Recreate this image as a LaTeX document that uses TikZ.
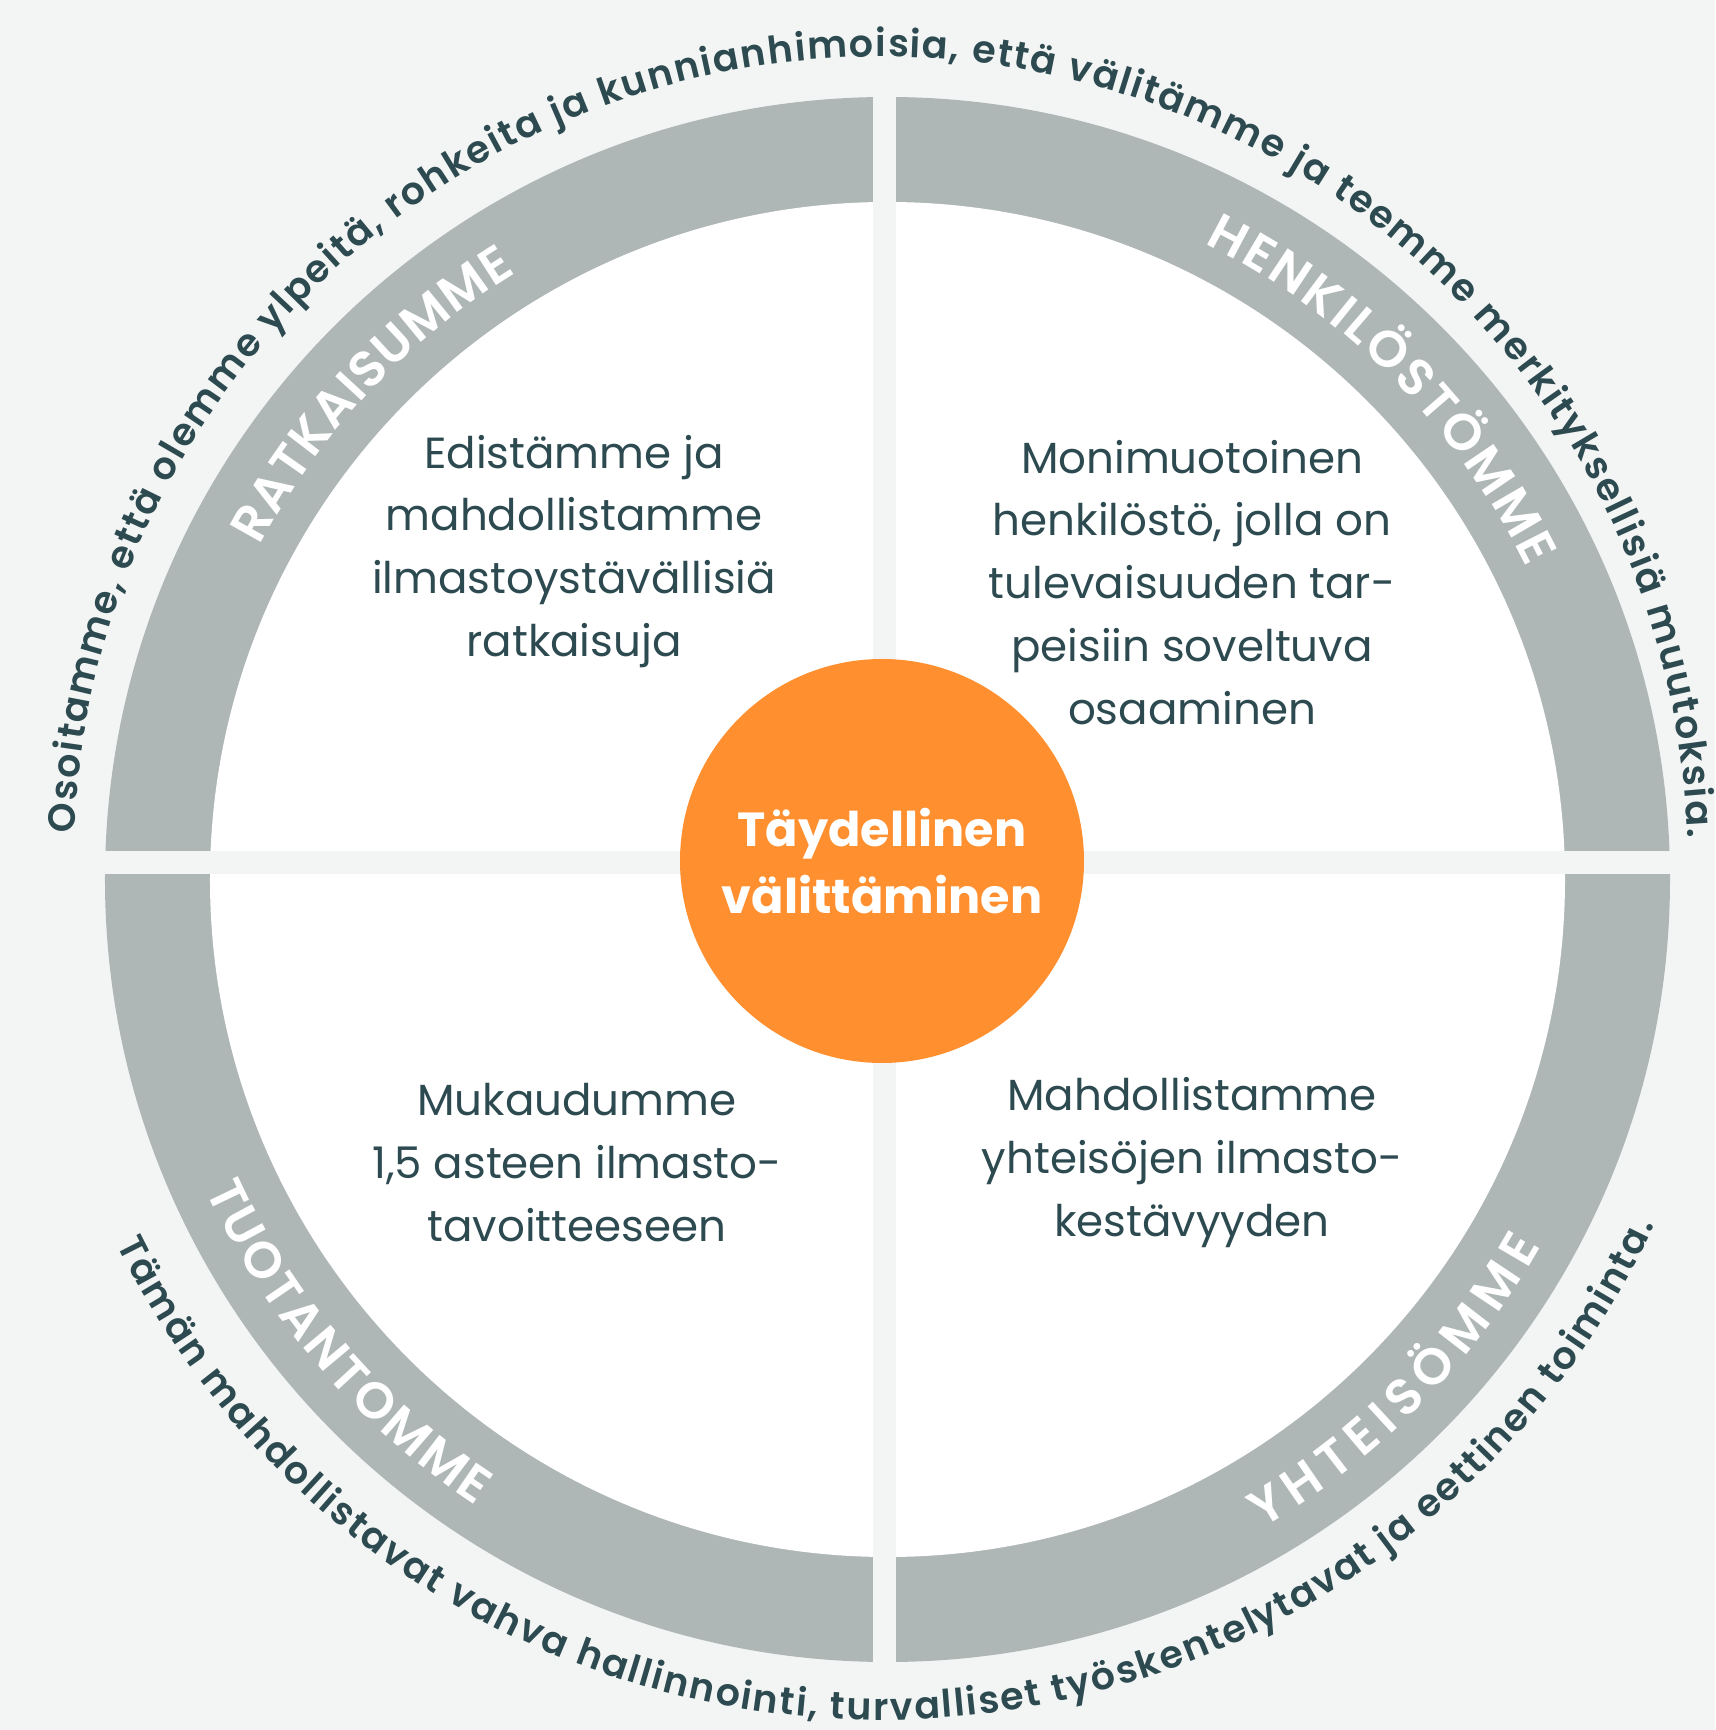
\documentclass[tikz,border=0pt]{standalone}
\usepackage{fontspec}
\setmainfont{Poppins}
\newfontfamily\semifam{Poppins SemiBold}
\usetikzlibrary{decorations.text}
\definecolor{pagebg}{HTML}{F3F5F4}
\definecolor{ringgray}{HTML}{AEB6B6}
\definecolor{inktext}{HTML}{2C4A50}
\definecolor{careorange}{HTML}{FF8F2F}
\tikzset{
  bodytext/.style={text=inktext, align=center, font=\fontsize{12.4}{17.9}\selectfont},
  ringlabel/.style={decorate, decoration={text along path, text align=fit to path, text color=white}},
  rimtext/.style={decorate, decoration={text along path, text align=fit to path, text color=inktext}}
}
\newcommand{\labelfont}{\semifam\fontsize{14.5}{14.5}\selectfont}
\newcommand{\rimfont}{\semifam\fontsize{10.8}{12}\selectfont}
\begin{document}
\begin{tikzpicture}
\fill[pagebg] (-8.845,-8.675) rectangle (8.305,8.625);
\useasboundingbox (-8.845,-8.675) rectangle (8.305,8.625);
\coordinate (rc) at (0.03,-0.17);
\coordinate (tc) at (-0.035,-0.015);
\coordinate (bc) at (-0.035,-0.055);
\fill[ringgray] (rc) circle (7.825);
\fill[white] (rc) circle (6.775);
\begin{scope}
\clip (rc) circle (7.9);
\fill[pagebg] (-0.115,-9) rectangle (0.115,9);
\fill[pagebg] (-9,-0.115) rectangle (9,0.115);
\end{scope}
\node[circle, fill=careorange, minimum size=4.04cm, inner sep=0pt, text=white, align=center,
  font=\bfseries\fontsize{13.6}{19.3}\selectfont] (care) at (-0.025,0.015) {Täydellinen\\välittäminen};
\node[bodytext] (solutions) at (-3.105,3.11) {Edistämme ja\\mahdollistamme\\ilmastoystävällisiä\\ratkaisuja};
\node[bodytext] (staff) at (3.075,2.80) {Monimuotoinen\\henkilöstö, jolla on\\tulevaisuuden tar-\\peisiin soveltuva\\osaaminen};
\node[bodytext] (production) at (-3.075,-3.00) {Mukaudumme\\1,5 asteen ilmasto-\\tavoitteeseen};
\node[bodytext] (community) at (3.075,-3.00) {Mahdollistamme\\yhteisöjen ilmasto-\\kestävyyden};
\path[ringlabel, decoration={text={|\labelfont|RATKAISUMME}}] (rc) ++(152:7.11) arc[start angle=152, end angle=121.5, radius=7.11];
\path[ringlabel, decoration={text={|\labelfont|HENKILÖSTÖMME}}] (rc) ++(63.5:7.11) arc[start angle=63.5, end angle=26, radius=7.11];
\path[ringlabel, decoration={text={|\labelfont|TUOTANTOMME}}] (rc) ++(204.5:7.49) arc[start angle=204.5, end angle=236.7, radius=7.49];
\path[ringlabel, decoration={text={|\labelfont|YHTEISÖMME}}] (rc) ++(300:7.49) arc[start angle=300, end angle=330.7, radius=7.49];
\path[rimtext, decoration={text={|\rimfont|Osoitamme, että olemme ylpeitä, rohkeita ja kunnianhimoisia, että välitämme ja teemme merkityksellisiä muutoksia.}}] (tc) ++(177.8:8.07) arc[start angle=177.8, end angle=1.9, radius=8.07];
\path[rimtext, decoration={text={|\rimfont|Tämän mahdollistavat vahva hallinnointi, turvalliset työskentelytavat ja eettinen toiminta.}}] (bc) ++(206.2:8.52) arc[start angle=206.2, end angle=335.2, radius=8.52];
\end{tikzpicture}
\end{document}
